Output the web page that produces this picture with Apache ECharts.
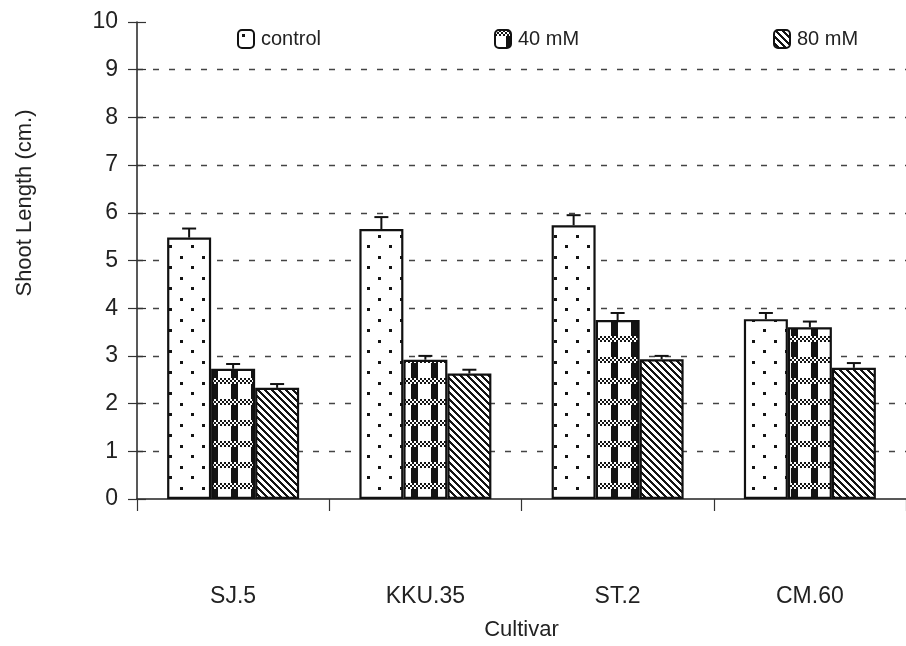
<!DOCTYPE html>
<html><head><meta charset="utf-8">
<script src="https://cdn.jsdelivr.net/npm/echarts@6/dist/echarts.min.js"></script>
<style>html,body{margin:0;padding:0;background:#fff}#c{width:906px;height:646px}</style>
</head><body><div id="c"></div>
<script>
const categories = ['SJ.5', 'KKU.35', 'ST.2', 'CM.60'];
const seriesNames = ['control', '40 mM', '80 mM'];
const control = [5.48, 5.66, 5.74, 3.77];
const controlErr = [0.19, 0.25, 0.21, 0.13];
const mM40 = [2.73, 2.92, 3.75, 3.6];
const mM40Err = [0.1, 0.08, 0.15, 0.12];
const mM80 = [2.33, 2.63, 2.93, 2.75];
const mM80Err = [0.08, 0.08, 0.07, 0.1];
const yTicks = [0, 1, 2, 3, 4, 5, 6, 7, 8, 9, 10];

const FONT = "'Liberation Sans', Arial, sans-serif";

function makeTile(w, h, fn) {
  const c = document.createElement('canvas');
  c.width = w; c.height = h;
  const ctx = c.getContext('2d');
  const img = ctx.createImageData(w, h);
  for (let y = 0; y < h; y++) for (let x = 0; x < w; x++) {
    const k = fn(x, y) ? 20 : 255;
    const i = (y * w + x) * 4;
    img.data[i] = k; img.data[i + 1] = k; img.data[i + 2] = k; img.data[i + 3] = 255;
  }
  ctx.putImageData(img, 0, 0);
  return c;
}
// dotted (control)
const dotTile = makeTile(22, 21, (x, y) => {
  const d1 = (x - 5) * (x - 5) + (y - 5) * (y - 5);
  const d2 = (x - 16) * (x - 16) + (y - 15) * (y - 15);
  return d1 <= 2 || d2 <= 2;
});
// checkered plaid (40 mM)
const checkTile = makeTile(20, 21, (x, y) => {
  if (y < 6) return ((Math.floor(x / 2) + Math.floor(y / 2)) % 2) === 0;
  return (x >= 11 && x < 18);
});
// diagonal stripes (80 mM)
const stripeTile = makeTile(7, 7, (x, y) => (((x - y) % 7) + 7) % 7 < 3);

const fills = [dotTile, checkTile, stripeTile].map(t => ({ image: t, repeat: 'repeat' }));
const values = [control, mM40, mM80];
const errs = [controlErr, mM40Err, mM80Err];
const BAR_W = 44;

const chart = echarts.init(document.getElementById('c'), null, { renderer: 'canvas' });

const barSeries = seriesNames.map((n, i) => ({
  name: n, type: 'bar', barWidth: BAR_W, barGap: '0%',
  data: values[i],
  itemStyle: { color: fills[i], borderColor: '#111', borderWidth: 2.2 },
  emphasis: { disabled: true },
  z: 2
}));

const errSeries = seriesNames.map((n, i) => ({
  name: n + ' err', type: 'custom',
  data: values[i].map((v, j) => [j, v, errs[i][j]]),
  z: 5,
  renderItem: function (params, api) {
    const idx = api.value(0), v = api.value(1), e = api.value(2);
    const p0 = api.coord([idx, v]);
    const p1 = api.coord([idx, v + e]);
    const x = p0[0] + (i - 1) * BAR_W;
    const style = { stroke: '#111', lineWidth: 2 };
    return {
      type: 'group', children: [
        { type: 'line', shape: { x1: x, y1: p0[1], x2: x, y2: p1[1] }, style: style },
        { type: 'line', shape: { x1: x - 7, y1: p1[1], x2: x + 7, y2: p1[1] }, style: style }
      ]
    };
  }
}));

const legendPos = [232, 489, 768];
const option = {
  backgroundColor: '#fff',
  animation: false,
  textStyle: { fontFamily: FONT },
  grid: { left: 137, top: 22, width: 776, bottom: 147, containLabel: false },
  legend: seriesNames.map((n, i) => ({
    data: [n], left: legendPos[i], top: 24, itemWidth: 16, itemHeight: 18,
    itemGap: 6, selectedMode: false,
    itemStyle: { borderColor: '#111', borderWidth: 2 },
    textStyle: { fontSize: 20, color: '#222', fontFamily: FONT, padding: [2, 0, 0, 2] }
  })),
  xAxis: {
    type: 'category', data: categories,
    axisLine: { lineStyle: { color: '#222', width: 1.5 } },
    axisTick: { show: true, length: 12, lineStyle: { color: '#333', width: 1.2 } },
    axisLabel: { margin: 86, fontSize: 23, color: '#222', fontFamily: FONT },
    name: 'Cultivar', nameLocation: 'middle', nameGap: 120,
    nameTextStyle: { fontSize: 22, color: '#222', fontFamily: FONT }
  },
  yAxis: [{
    type: 'value', min: 0, max: 10, interval: 1,
    axisLine: { show: true, lineStyle: { color: '#222', width: 1.5 } },
    axisTick: { show: true, length: 9, lineStyle: { color: '#333', width: 1.2 } },
    axisLabel: { margin: 19, fontSize: 23, color: '#222', fontFamily: FONT,
      formatter: v => (yTicks.indexOf(v) >= 0 ? String(v) : '') },
    splitLine: { show: true, showMinLine: false, showMaxLine: false,
      lineStyle: { color: '#444', width: 1.4, type: [6, 10] } }
  }, {
    type: 'value', min: 0, max: 10, interval: 1, position: 'left',
    axisLine: { show: false },
    axisTick: { show: true, inside: true, length: 9, lineStyle: { color: '#333', width: 1.2 } },
    axisLabel: { show: false },
    splitLine: { show: false }
  }],
  graphic: [{
    type: 'text', x: 25, y: 203, rotation: Math.PI / 2,
    style: { text: 'Shoot Length (cm.)', font: "22px 'Liberation Sans', Arial, sans-serif",
      fill: '#222', textAlign: 'center', textVerticalAlign: 'middle' }
  }],
  series: barSeries.concat(errSeries)
};
chart.setOption(option);
</script>
</body></html>
